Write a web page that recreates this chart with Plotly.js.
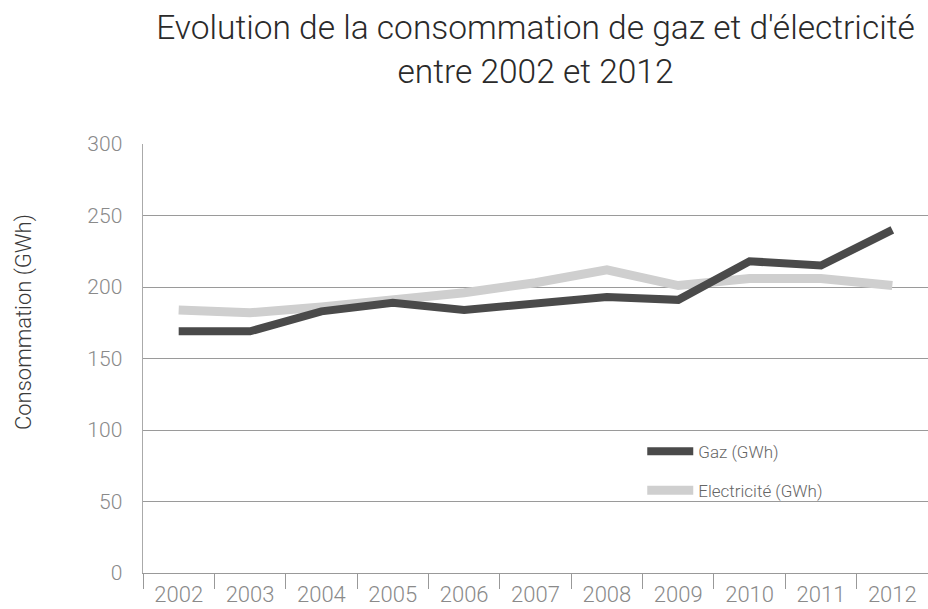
<!DOCTYPE html>
<html>
<head>
<meta charset="utf-8">
<script src="https://cdn.plot.ly/plotly-3.0.1.min.js"></script>
<style>html,body{margin:0;padding:0;background:#fff;}#chart{width:928px;height:609px;}</style>
</head>
<body>
<div id="chart"></div>
<script>
var years = [2002, 2003, 2004, 2005, 2006, 2007, 2008, 2009, 2010, 2011, 2012];
var gaz = [169, 169, 183, 189, 184, 188, 193, 191, 218, 215, 240];
var electricite = [184, 182, 186, 191, 196, 203, 212, 201, 206, 206, 201];
var seriesNames = ["Gaz (GWh)", "Electricité (GWh)"];
var chartTitle = "Evolution de la consommation de gaz et d'électricité<br>entre 2002 et 2012";
var yTitle = "Consommation (GWh)";

var traces = [
  {x: years, y: electricite, name: seriesNames[1], type: "scatter", mode: "lines",
   line: {color: "#cfcfcf", width: 9}, legendgroup: "e", legendrank: 2},
  {x: years, y: gaz, name: seriesNames[0], type: "scatter", mode: "lines",
   line: {color: "#4a4a4a", width: 8}, legendgroup: "g", legendrank: 1}
];

var layout = {
  width: 928, height: 609,
  margin: {l: 143, r: 0, t: 144, b: 36},
  paper_bgcolor: "#fff", plot_bgcolor: "#fff",
  font: {family: "Roboto, 'DejaVu Sans', sans-serif", color: "#888"},
  title: {text: chartTitle, xref: "paper", x: 0.5, xanchor: "center",
          yref: "container", y: 0.936, yanchor: "top",
          font: {family: "Roboto, sans-serif", size: 33.5, color: "#2a2a2a", weight: 300}},
  xaxis: {type: "linear", range: [2001.5, 2012.5], tickmode: "array", tickvals: years,
          ticks: "", showgrid: false, zeroline: false, showline: true, linecolor: "#999", linewidth: 1,
          tickfont: {family: "Roboto, sans-serif", size: 22, color: "#8a8a8a", weight: 300},
          ticklabelstandoff: 2,
          minor: {tick0: 2001.5, dtick: 1, ticks: "outside", ticklen: 15, tickcolor: "#999", tickwidth: 1, showgrid: false}},
  yaxis: {range: [0, 300], dtick: 50, ticks: "", showgrid: true, gridcolor: "#9a9a9a", gridwidth: 1,
          zeroline: false, showline: true, linecolor: "#aaa", linewidth: 1.5,
          tickfont: {family: "Roboto, sans-serif", size: 21, color: "#8a8a8a", weight: 300},
          ticklabelstandoff: 15},
  showlegend: true,
  legend: {x: 0.636, xanchor: "left", y: 0.325, yanchor: "top", traceorder: "grouped",
           tracegroupgap: 14, itemwidth: 46, bgcolor: "rgba(0,0,0,0)",
           font: {family: "Roboto, sans-serif", size: 17, color: "#666", weight: 300}},
  annotations: [{text: yTitle, textangle: -90, xref: "paper", yref: "paper",
                 x: -0.1516, y: 0.585, xanchor: "center", yanchor: "middle", showarrow: false,
                 font: {family: "Roboto, sans-serif", size: 22, color: "#3a3a3a", weight: 300}}]
};

Plotly.newPlot("chart", traces, layout, {displayModeBar: false, staticPlot: true});
</script>
</body>
</html>
